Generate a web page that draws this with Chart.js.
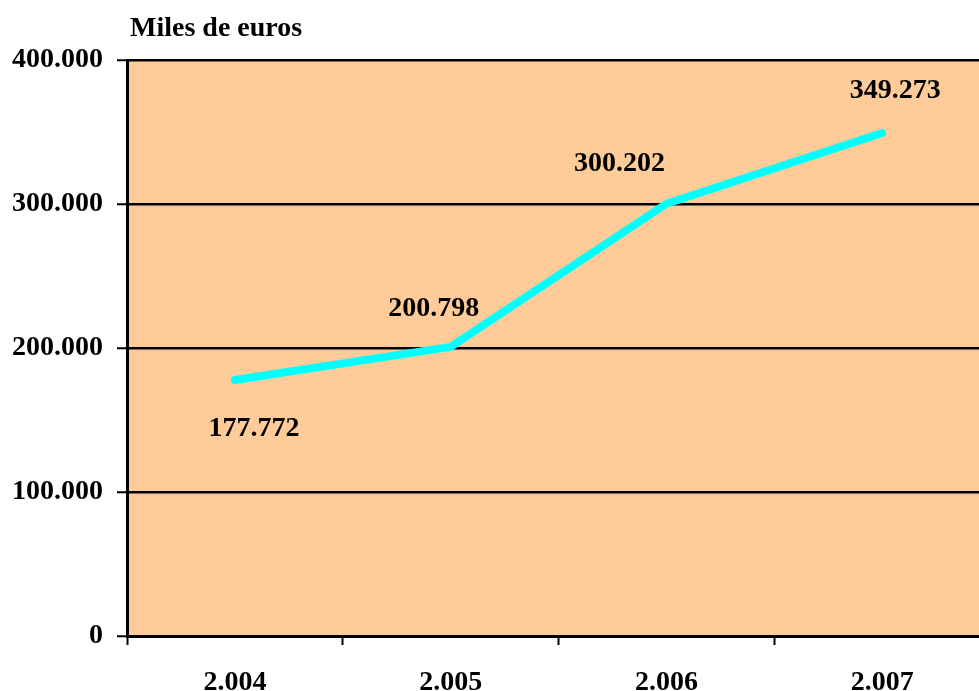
<!DOCTYPE html>
<html>
<head>
<meta charset="utf-8">
<script src="https://cdn.jsdelivr.net/npm/chart.js@4"></script>
<style>
  html, body { margin: 0; padding: 0; background: #fff; overflow: hidden; }
  #wrap { width: 1000px; height: 691px; }
</style>
</head>
<body>
<div id="wrap"><canvas id="myChart"></canvas></div>
<script>
'use strict';
// datos
const years = ['2.004', '2.005', '2.006', '2.007'];
const valores = [177772, 200798, 300202, 349273];
const yTicks = [0, 100000, 200000, 300000, 400000];
const titulo = 'Miles de euros';

// desplazamiento de cada etiqueta respecto a su punto
const labelOffsets = [[19, 49], [-17, -38], [-47, -40], [13, -42]];

const fuente = { family: '"Liberation Serif", "Times New Roman", serif', size: 28, weight: 'bold' };
const miles = v => String(v).replace(/\B(?=(\d{3})+(?!\d))/g, '.');

const fondoPlot = {
    id: 'fondoPlot',
    beforeDraw(chart) {
        const { ctx, chartArea: a } = chart;
        ctx.save();
        ctx.fillStyle = '#FFCC99';
        ctx.fillRect(a.left, a.top, a.right - a.left, a.bottom - a.top);
        ctx.restore();
    }
};

const etiquetas = {
    id: 'etiquetas',
    afterDatasetsDraw(chart) {
        const { ctx, chartArea: a } = chart;
        const meta = chart.getDatasetMeta(0);
        ctx.save();
        ctx.font = `${fuente.weight} ${fuente.size}px ${fuente.family}`;
        ctx.fillStyle = '#000';
        ctx.textAlign = 'center';
        ctx.textBaseline = 'middle';
        meta.data.forEach((pt, i) => {
            const [dx, dy] = labelOffsets[i];
            ctx.fillText(miles(valores[i]), pt.x + dx, pt.y + dy);
        });
        ctx.textAlign = 'left';
        ctx.fillText(titulo, a.left + 3, 29);
        ctx.restore();
    }
};

const ctx = document.getElementById('myChart');
new Chart(ctx.getContext('2d'), {
    type: 'line',
    data: {
        labels: years,
        datasets: [{
            data: valores,
            borderColor: '#00FFFF',
            borderWidth: 8,
            borderCapStyle: 'round',
            borderJoinStyle: 'round',
            pointRadius: 0,
            tension: 0,
            fill: false
        }]
    },
    options: {
        responsive: true,
        maintainAspectRatio: false,
        animation: false,
        layout: { padding: { top: 60, right: 10, left: 0, bottom: 0 } },
        plugins: {
            legend: { display: false },
            tooltip: { enabled: false }
        },
        scales: {
            x: {
                offset: true,
                afterFit: s => { s.height = 55; },
                grid: {
                    offset: true,
                    drawOnChartArea: false,
                    drawTicks: true,
                    tickLength: 9,
                    tickWidth: 2,
                    tickColor: '#000'
                },
                border: { color: '#000', width: 3 },
                ticks: { color: '#000', font: fuente, padding: 21, maxRotation: 0 }
            },
            y: {
                min: 0,
                max: 400000,
                afterFit: s => { s.width = 127; },
                afterBuildTicks: s => { s.ticks = yTicks.map(v => ({ value: v })); },
                grid: {
                    color: '#000',
                    lineWidth: 2.5,
                    tickLength: 10,
                    tickWidth: 2
                },
                border: { color: '#000', width: 3 },
                ticks: { color: '#000', font: fuente, padding: 14, callback: v => miles(v) }
            }
        }
    },
    plugins: [fondoPlot, etiquetas]
});
</script>
</body>
</html>
